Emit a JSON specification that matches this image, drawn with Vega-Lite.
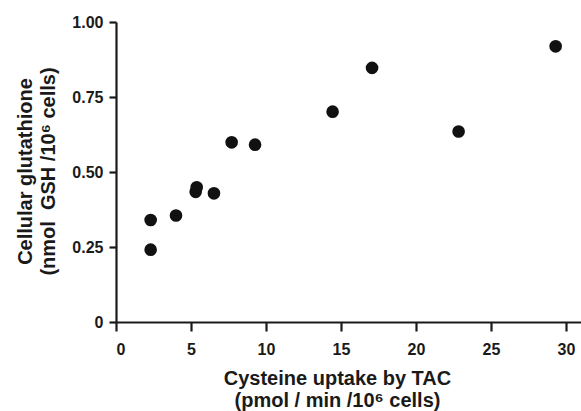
{
  "$schema": "https://vega.github.io/schema/vega-lite/v6.json",
  "width": 465,
  "height": 300,
  "autosize": "none",
  "padding": {"left": 116, "top": 22, "right": 0, "bottom": 89},
  "background": "white",
  "config": {
    "view": {"stroke": null},
    "axis": {
      "grid": false,
      "labelFont": "Liberation Sans",
      "labelFontWeight": "bold",
      "labelFontSize": 16,
      "labelColor": "#1a1a1a",
      "titleFont": "Liberation Sans",
      "titleFontWeight": "bold",
      "titleFontSize": 20,
      "titleColor": "#1a1a1a",
      "domainColor": "#1a1a1a",
      "domainWidth": 2.2,
      "tickColor": "#1a1a1a",
      "tickWidth": 2.2
    }
  },
  "data": {
    "values": [
      {"uptake": 2.31, "gsh": 0.340},
      {"uptake": 2.31, "gsh": 0.241},
      {"uptake": 4.0, "gsh": 0.355},
      {"uptake": 5.38, "gsh": 0.449},
      {"uptake": 5.31, "gsh": 0.434},
      {"uptake": 6.53, "gsh": 0.429},
      {"uptake": 7.71, "gsh": 0.599},
      {"uptake": 9.27, "gsh": 0.591},
      {"uptake": 14.44, "gsh": 0.701},
      {"uptake": 17.07, "gsh": 0.847},
      {"uptake": 22.84, "gsh": 0.635},
      {"uptake": 29.31, "gsh": 0.919}
    ]
  },
  "mark": {"type": "point", "filled": true, "size": 160, "color": "#111111", "opacity": 1},
  "encoding": {
    "x": {
      "field": "uptake",
      "type": "quantitative",
      "scale": {"domain": [0, 31], "nice": false, "zero": false},
      "axis": {
        "values": [0, 5, 10, 15, 20, 25, 30],
        "format": "d",
        "tickSize": 9,
        "labelPadding": 10,
        "title": ["Cysteine uptake by TAC", "(pmol / min /10⁶ cells)"],
        "titleLineHeight": 22,
        "titleX": 221,
        "titleY": 56,
        "titleBaseline": "middle",
        "titleAlign": "center"
      }
    },
    "y": {
      "field": "gsh",
      "type": "quantitative",
      "scale": {"domain": [0, 1], "nice": false},
      "axis": {
        "values": [0, 0.25, 0.5, 0.75, 1],
        "labelExpr": "datum.value == 0 ? '0' : format(datum.value, '.2f')",
        "tickSize": 7,
        "labelPadding": 6,
        "title": ["Cellular glutathione", "(nmol\u00a0 GSH /10⁶ cells)"],
        "titleLineHeight": 23,
        "titleAngle": -90,
        "titleX": -91,
        "titleY": 149,
        "titleBaseline": "middle",
        "titleAlign": "center"
      }
    }
  }
}
